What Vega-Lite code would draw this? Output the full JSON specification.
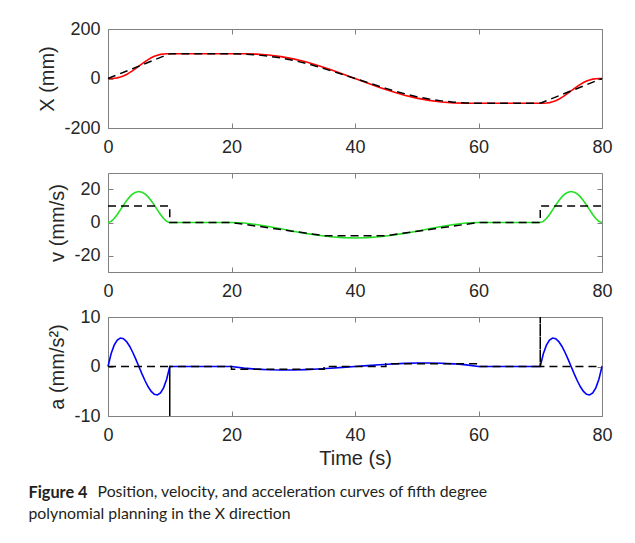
{
  "$schema": "https://vega.github.io/schema/vega-lite/v6.json",
  "background": "white",
  "padding": {"left": 28, "top": 19, "right": 10, "bottom": 10},
  "spacing": 45,
  "bounds": "flush",
  "datasets": {
    "x_poly": [
      {"t":0,"y":0},{"t":0.5,"y":0.116},{"t":1,"y":0.856},{"t":1.5,"y":2.661},{"t":2,"y":5.792},{"t":2.5,"y":10.352},{"t":3,"y":16.308},{"t":3.5,"y":23.517},{"t":4,"y":31.744},{"t":4.5,"y":40.687},{"t":5,"y":50},{"t":5.5,"y":59.313},{"t":6,"y":68.256},{"t":6.5,"y":76.483},{"t":7,"y":83.692},{"t":7.5,"y":89.648},{"t":8,"y":94.208},{"t":8.5,"y":97.339},{"t":9,"y":99.144},{"t":9.5,"y":99.884},{"t":10,"y":100},
      {"t":20,"y":100},{"t":22,"y":99.768},{"t":24,"y":98.288},{"t":26,"y":94.678},{"t":28,"y":88.416},{"t":30,"y":79.297},{"t":32,"y":67.384},{"t":34,"y":52.966},{"t":36,"y":36.512},{"t":38,"y":18.626},{"t":40,"y":0},{"t":42,"y":-18.626},{"t":44,"y":-36.512},{"t":46,"y":-52.966},{"t":48,"y":-67.384},{"t":50,"y":-79.297},{"t":52,"y":-88.416},{"t":54,"y":-94.678},{"t":56,"y":-98.288},{"t":58,"y":-99.768},{"t":60,"y":-100},
      {"t":70,"y":-100},{"t":70.5,"y":-99.884},{"t":71,"y":-99.144},{"t":71.5,"y":-97.339},{"t":72,"y":-94.208},{"t":72.5,"y":-89.648},{"t":73,"y":-83.692},{"t":73.5,"y":-76.483},{"t":74,"y":-68.256},{"t":74.5,"y":-59.313},{"t":75,"y":-50},{"t":75.5,"y":-40.687},{"t":76,"y":-31.744},{"t":76.5,"y":-23.517},{"t":77,"y":-16.308},{"t":77.5,"y":-10.352},{"t":78,"y":-5.792},{"t":78.5,"y":-2.661},{"t":79,"y":-0.856},{"t":79.5,"y":-0.116},{"t":80,"y":0}
    ],
    "x_ref": [
      {"t":0,"y":0},{"t":10,"y":100},{"t":20,"y":100},{"t":22,"y":98.933},{"t":24,"y":95.733},{"t":26,"y":90.4},{"t":28,"y":82.933},{"t":30,"y":73.333},{"t":32,"y":61.6},{"t":34,"y":47.733},{"t":35,"y":40},{"t":45,"y":-40},{"t":46,"y":-47.733},{"t":48,"y":-61.6},{"t":50,"y":-73.333},{"t":52,"y":-82.933},{"t":54,"y":-90.4},{"t":56,"y":-95.733},{"t":58,"y":-98.933},{"t":60,"y":-100},{"t":70,"y":-100},{"t":80,"y":0}
    ],
    "v_poly": [
      {"t":0,"y":0},{"t":0.5,"y":0.677},{"t":1,"y":2.43},{"t":1.5,"y":4.877},{"t":2,"y":7.68},{"t":2.5,"y":10.547},{"t":3,"y":13.23},{"t":3.5,"y":15.527},{"t":4,"y":17.28},{"t":4.5,"y":18.377},{"t":5,"y":18.75},{"t":5.5,"y":18.377},{"t":6,"y":17.28},{"t":6.5,"y":15.527},{"t":7,"y":13.23},{"t":7.5,"y":10.547},{"t":8,"y":7.68},{"t":8.5,"y":4.877},{"t":9,"y":2.43},{"t":9.5,"y":0.677},{"t":10,"y":0},
      {"t":20,"y":0},{"t":22,"y":-0.339},{"t":24,"y":-1.215},{"t":26,"y":-2.438},{"t":28,"y":-3.84},{"t":30,"y":-5.273},{"t":32,"y":-6.615},{"t":34,"y":-7.763},{"t":36,"y":-8.64},{"t":38,"y":-9.188},{"t":40,"y":-9.375},{"t":42,"y":-9.188},{"t":44,"y":-8.64},{"t":46,"y":-7.763},{"t":48,"y":-6.615},{"t":50,"y":-5.273},{"t":52,"y":-3.84},{"t":54,"y":-2.438},{"t":56,"y":-1.215},{"t":58,"y":-0.339},{"t":60,"y":0},
      {"t":70,"y":0},{"t":70.5,"y":0.677},{"t":71,"y":2.43},{"t":71.5,"y":4.877},{"t":72,"y":7.68},{"t":72.5,"y":10.547},{"t":73,"y":13.23},{"t":73.5,"y":15.527},{"t":74,"y":17.28},{"t":74.5,"y":18.377},{"t":75,"y":18.75},{"t":75.5,"y":18.377},{"t":76,"y":17.28},{"t":76.5,"y":15.527},{"t":77,"y":13.23},{"t":77.5,"y":10.547},{"t":78,"y":7.68},{"t":78.5,"y":4.877},{"t":79,"y":2.43},{"t":79.5,"y":0.677},{"t":80,"y":0}
    ],
    "v_ref": [
      {"t":0,"y":10},{"t":10,"y":10},{"t":10,"y":0},{"t":20,"y":0},{"t":35,"y":-8},{"t":45,"y":-8},{"t":60,"y":0},{"t":70,"y":0},{"t":70,"y":10},{"t":80,"y":10}
    ],
    "a_poly": [
      {"t":0,"y":0},{"t":0.5,"y":2.565},{"t":1,"y":4.32},{"t":1.5,"y":5.355},{"t":2,"y":5.76},{"t":2.5,"y":5.625},{"t":3,"y":5.04},{"t":3.5,"y":4.095},{"t":4,"y":2.88},{"t":4.5,"y":1.485},{"t":5,"y":0},{"t":5.5,"y":-1.485},{"t":6,"y":-2.88},{"t":6.5,"y":-4.095},{"t":7,"y":-5.04},{"t":7.5,"y":-5.625},{"t":8,"y":-5.76},{"t":8.5,"y":-5.355},{"t":9,"y":-4.32},{"t":9.5,"y":-2.565},{"t":10,"y":0},
      {"t":20,"y":0},{"t":22,"y":-0.321},{"t":24,"y":-0.54},{"t":26,"y":-0.669},{"t":28,"y":-0.72},{"t":30,"y":-0.703},{"t":32,"y":-0.63},{"t":34,"y":-0.512},{"t":36,"y":-0.36},{"t":38,"y":-0.186},{"t":40,"y":0},{"t":42,"y":0.186},{"t":44,"y":0.36},{"t":46,"y":0.512},{"t":48,"y":0.63},{"t":50,"y":0.703},{"t":52,"y":0.72},{"t":54,"y":0.669},{"t":56,"y":0.54},{"t":58,"y":0.321},{"t":60,"y":0},
      {"t":70,"y":0},{"t":70.5,"y":2.565},{"t":71,"y":4.32},{"t":71.5,"y":5.355},{"t":72,"y":5.76},{"t":72.5,"y":5.625},{"t":73,"y":5.04},{"t":73.5,"y":4.095},{"t":74,"y":2.88},{"t":74.5,"y":1.485},{"t":75,"y":0},{"t":75.5,"y":-1.485},{"t":76,"y":-2.88},{"t":76.5,"y":-4.095},{"t":77,"y":-5.04},{"t":77.5,"y":-5.625},{"t":78,"y":-5.76},{"t":78.5,"y":-5.355},{"t":79,"y":-4.32},{"t":79.5,"y":-2.565},{"t":80,"y":0}
    ],
    "a_ref": [
      {"t":0,"y":0},{"t":10,"y":0},{"t":10,"y":-10},{"t":10,"y":0},{"t":20,"y":0},{"t":20,"y":-0.533},{"t":35,"y":-0.533},{"t":35,"y":0},{"t":45,"y":0},{"t":45,"y":0.533},{"t":60,"y":0.533},{"t":60,"y":0},{"t":70,"y":0},{"t":70,"y":10},{"t":70,"y":0},{"t":80,"y":0}
    ]
  },
  "vconcat": [
    {
      "width": 494, "height": 99,
      "layer": [
        {
          "data": {"name": "x_poly"},
          "mark": {"type": "line", "color": "#ff0000", "strokeWidth": 1.6},
          "encoding": {
            "x": {"field": "t", "type": "quantitative", "scale": {"domain": [0, 80]}, "axis": {"orient": "top", "labels": false, "grid": false, "title": null, "values": [20, 40, 60]}},
            "y": {"field": "y", "type": "quantitative", "scale": {"domain": [-200, 200]}, "axis": {"orient": "right", "labels": false, "grid": false, "title": null, "values": [-200, 0, 200]}}
          }
        },
        {
          "data": {"name": "x_ref"},
          "mark": {"type": "line", "color": "#000000", "strokeWidth": 1.5, "strokeDash": [8, 5]},
          "encoding": {
            "x": {"field": "t", "type": "quantitative", "axis": {"orient": "bottom", "title": null, "values": [0, 20, 40, 60, 80]}},
            "y": {"field": "y", "type": "quantitative", "axis": {"orient": "left", "title": "X (mm)", "values": [-200, 0, 200]}},
            "order": {"value": null}
          }
        }
      ],
      "resolve": {"axis": {"x": "independent", "y": "independent"}}
    },
    {
      "width": 494, "height": 99,
      "layer": [
        {
          "data": {"name": "v_poly"},
          "mark": {"type": "line", "color": "#22e022", "strokeWidth": 1.6},
          "encoding": {
            "x": {"field": "t", "type": "quantitative", "scale": {"domain": [0, 80]}, "axis": {"orient": "top", "labels": false, "grid": false, "title": null, "values": [20, 40, 60]}},
            "y": {"field": "y", "type": "quantitative", "scale": {"domain": [-30, 30]}, "axis": {"orient": "right", "labels": false, "grid": false, "title": null, "values": [-20, 0, 20]}}
          }
        },
        {
          "data": {"name": "v_ref"},
          "mark": {"type": "line", "color": "#000000", "strokeWidth": 1.5, "strokeDash": [8, 5]},
          "encoding": {
            "x": {"field": "t", "type": "quantitative", "axis": {"orient": "bottom", "title": null, "values": [0, 20, 40, 60, 80]}},
            "y": {"field": "y", "type": "quantitative", "axis": {"orient": "left", "title": "v (mm/s)", "values": [-20, 0, 20]}},
            "order": {"value": null}
          }
        }
      ],
      "resolve": {"axis": {"x": "independent", "y": "independent"}}
    },
    {
      "width": 494, "height": 99,
      "layer": [
        {
          "data": {"name": "a_poly"},
          "mark": {"type": "line", "color": "#0000ff", "strokeWidth": 1.6},
          "encoding": {
            "x": {"field": "t", "type": "quantitative", "scale": {"domain": [0, 80]}, "axis": {"orient": "top", "labels": false, "grid": false, "title": null, "values": [20, 40, 60]}},
            "y": {"field": "y", "type": "quantitative", "scale": {"domain": [-10, 10]}, "axis": {"orient": "right", "labels": false, "grid": false, "title": null, "values": [-10, 0, 10]}}
          }
        },
        {
          "data": {"name": "a_ref"},
          "mark": {"type": "line", "color": "#000000", "strokeWidth": 1.5, "strokeDash": [8, 5]},
          "encoding": {
            "x": {"field": "t", "type": "quantitative", "axis": {"orient": "bottom", "title": "Time (s)", "values": [0, 20, 40, 60, 80]}},
            "y": {"field": "y", "type": "quantitative", "axis": {"orient": "left", "title": "a (mm/s²)", "values": [-10, 0, 10]}},
            "order": {"value": null}
          }
        }
      ],
      "resolve": {"axis": {"x": "independent", "y": "independent"}}
    }
  ],
  "title": {
    "text": "Figure 4",
    "subtitle": ["\u200b\u2003\u2003\u2003\u2003\u2002\u2002\u2009\u2009\u2009Position, velocity, and acceleration curves of fifth degree", "polynomial planning in the X direction"],
    "orient": "bottom",
    "anchor": "start",
    "frame": "bounds",
    "font": "Lato",
    "fontSize": 16.3,
    "fontWeight": "bold",
    "color": "#231f20",
    "subtitleFont": "Lato",
    "subtitleFontSize": 15.8,
    "subtitleColor": "#231f20",
    "subtitleLineHeight": 22,
    "subtitlePadding": -16.3,
    "offset": 16,
    "dx": -9
  },
  "config": {
    "view": {"stroke": "#808080", "strokeWidth": 1},
    "axis": {
      "labelFont": "Liberation Sans",
      "labelFontSize": 18,
      "labelColor": "#262626",
      "labelFlush": false,
      "labelOverlap": false,
      "labelExpr": "replace(datum.label, '\u2212', '-')",
      "titleFont": "Liberation Sans",
      "titleFontSize": 20,
      "titleFontWeight": "normal",
      "titleColor": "#262626",
      "domain": false,
      "tickColor": "#808080",
      "tickSize": -5,
      "gridColor": "#e3e3e3",
      "gridWidth": 1
    },
    "axisX": {"labelPadding": 15, "titlePadding": 4},
    "axisY": {"labelPadding": 13, "titlePadding": 6}
  }
}
